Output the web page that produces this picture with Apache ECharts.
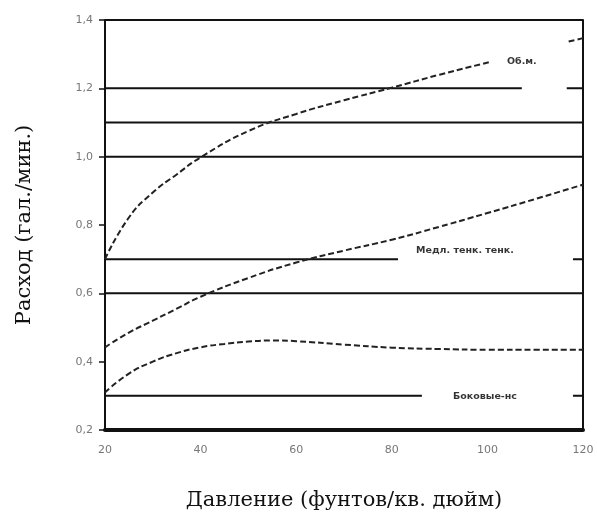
<!DOCTYPE html>
<html><head><meta charset="utf-8">
<script src="https://cdn.jsdelivr.net/npm/echarts@6/dist/echarts.min.js"></script>
<style>html,body{margin:0;padding:0;background:#fff}#c{width:597px;height:518px}</style>
</head><body><div id="c"></div>
<script>
var yTicks = ['1,4','1,2','1,0','0,8','0,6','0,4','0,2'];
var xTicks = [20,40,60,80,100,120];
var topX = [20, 25, 30, 35, 40, 50, 60, 70, 80, 90, 100.5, null, 117, 120];
var topY = [0.70, 0.822, 0.895, 0.948, 0.998, 1.075, 1.125, 1.165, 1.202, 1.24, 1.277, null, 1.337, 1.347];
var midX = [20, 25, 30, 35, 40, 50, 60, 70, 80, 90, 100, 110, 120];
var midY = [0.442, 0.485, 0.52, 0.555, 0.59, 0.645, 0.69, 0.725, 0.757, 0.795, 0.835, 0.876, 0.918];
var lowX = [20, 25, 30, 35, 40, 45, 50, 55, 60, 70, 80, 90, 100, 110, 120];
var lowY = [0.31, 0.365, 0.40, 0.425, 0.442, 0.452, 0.459, 0.462, 0.46, 0.45, 0.441, 0.437, 0.435, 0.435, 0.435];
var fullLines = [1.4, 1.1, 1.0, 0.6];
var partialLines = [[1.2, 107.2, 116.6], [0.7, 81.3, 117.9], [0.3, 86.3, 117.9]];
var labelTexts = ['Об.м.', 'Медл. тенк. тенк.', 'Боковые-нс'];
var labelPos = [[107.2, 1.277], [95.3, 0.726], [99.5, 0.299]];

function zip(a, b) { return a.map(function (v, i) { return v === null ? [null, null] : [v, b[i]]; }); }
var series = [];
fullLines.forEach(function (y) {
  series.push({ type: 'line', data: [[20, y], [120, y]], symbol: 'none', silent: true,
    lineStyle: { color: '#111', width: 2 } });
});
partialLines.forEach(function (p) {
  series.push({ type: 'line', data: [[20, p[0]], [p[1], p[0]], [null, null], [p[2], p[0]], [120, p[0]]],
    symbol: 'none', silent: true, connectNulls: false, lineStyle: { color: '#111', width: 2 } });
});
[[topX, topY], [midX, midY], [lowX, lowY]].forEach(function (c) {
  series.push({ type: 'line', data: zip(c[0], c[1]), symbol: 'none', smooth: 0.5,
    connectNulls: false, lineStyle: { color: '#222', width: 2, type: [6, 3] } });
});
series.push({ type: 'scatter', symbolSize: 0,
  data: labelPos.map(function (p, i) { return { value: p, name: labelTexts[i] }; }),
  label: { show: true, position: 'inside', formatter: '{b}', color: '#000', fontSize: 9.5, fontWeight: 'bold',
    fontFamily: 'DejaVu Sans' } });

var chart = echarts.init(document.getElementById('c'));
chart.setOption({
  animation: false,
  grid: { left: 105, right: 14, top: 20, bottom: 88 },
  xAxis: { type: 'value', min: 20, max: 120, interval: 20,
    name: 'Давление (фунтов/кв. дюйм)', nameLocation: 'middle', nameGap: 60,
    nameTextStyle: { fontFamily: 'DejaVu Serif', fontSize: 21, color: '#111' },
    axisLine: { lineStyle: { color: '#111', width: 4 } }, axisTick: { show: false },
    splitLine: { show: false },
    axisLabel: { color: '#777', fontSize: 11, margin: 15, fontFamily: 'DejaVu Sans',
      formatter: function (v) { return xTicks.indexOf(v) >= 0 ? String(v) : ''; } } },
  yAxis: [{ type: 'value', min: 0.2, max: 1.4, interval: 0.2,
    name: 'Расход (гал./мин.)', nameLocation: 'middle', nameGap: 70, nameRotate: 90,
    nameTextStyle: { fontFamily: 'DejaVu Serif', fontSize: 21, color: '#111' },
    axisLine: { show: true, lineStyle: { color: '#111', width: 2 } },
    axisTick: { show: true, length: 6, lineStyle: { color: '#111', width: 1.5 } },
    splitLine: { show: false },
    axisLabel: { color: '#777', fontSize: 11, margin: 12, fontFamily: 'DejaVu Sans',
      formatter: function (v) { return yTicks[Math.round((1.4 - v) / 0.2)]; } } },
    { type: 'value', position: 'right', min: 0.2, max: 1.4, interval: 0.2,
      axisLine: { show: true, lineStyle: { color: '#111', width: 2 } },
      axisTick: { show: false }, axisLabel: { show: false }, splitLine: { show: false } }],
  series: series
});
</script></body></html>
